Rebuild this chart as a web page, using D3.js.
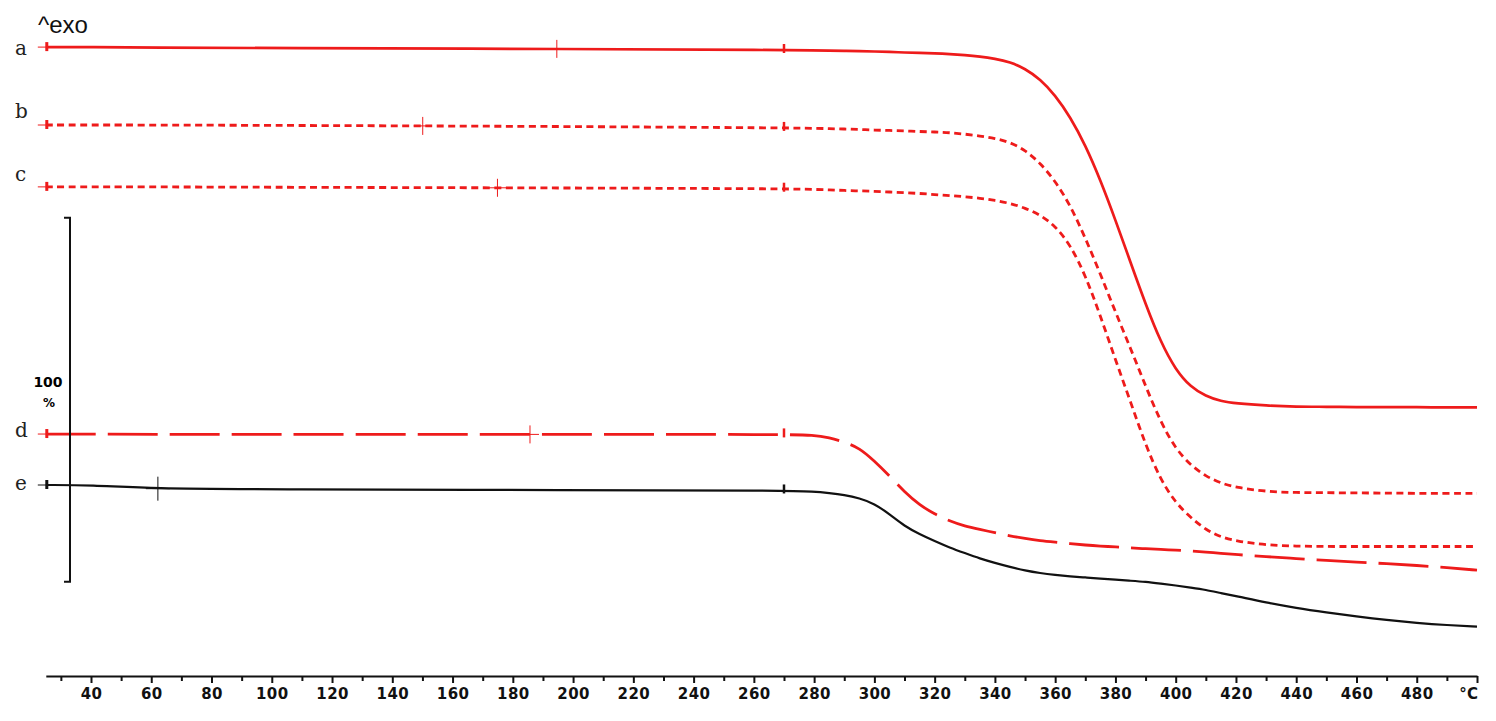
<!DOCTYPE html>
<html><head><meta charset="utf-8">
<script src="https://cdn.jsdelivr.net/npm/d3@7"></script>
<style>body{margin:0;background:#fff;} svg{display:block;}</style>
</head><body>
<svg id="chart" width="1496" height="721"></svg>
<script>
// ---------- data ----------
const temperatures = [25, 40, 60, 100, 200, 270, 280, 285, 290, 295, 300, 305, 310, 315, 320, 325, 330, 335, 340, 345, 350, 355, 360, 365, 370, 375, 380, 385, 390, 395, 400, 405, 410, 415, 420, 430, 440, 450, 460, 470, 480, 490, 500];
const seriesNames = ["a", "b", "c", "d", "e"];
const massA = [100, 100, 99.9, 99.7, 99.5, 99.2, 99.1, 99.0, 99.0, 98.9, 98.8, 98.7, 98.5, 98.4, 98.3, 98.1, 97.8, 97.4, 96.8, 95.9, 94.1, 91.2, 86.8, 80.8, 73.1, 63.5, 52.5, 40.9, 29.4, 19.0, 11.3, 6.6, 4.1, 2.7, 2.1, 1.5, 1.2, 1.2, 1.1, 1.1, 1.1, 1.0, 1.0];
const massB = [100, 100, 100, 99.9, 99.6, 99.2, 99.1, 99.0, 98.9, 98.8, 98.6, 98.5, 98.4, 98.2, 98.1, 97.9, 97.5, 97.0, 96.3, 95.3, 93.1, 89.6, 84.6, 78.0, 69.0, 59.1, 48.6, 38.7, 28.3, 18.4, 11.0, 6.5, 3.5, 1.6, 0.4, -0.7, -1.0, -1.0, -1.1, -1.1, -1.2, -1.2, -1.2];
const massC = [100, 100, 100, 99.9, 99.7, 99.5, 99.3, 99.2, 99.0, 98.9, 98.8, 98.6, 98.4, 98.2, 97.9, 97.6, 97.3, 96.9, 96.3, 95.5, 94.2, 92.3, 89.3, 84.1, 75.8, 64.6, 52.5, 41.0, 29.1, 19.5, 13.2, 9.1, 5.8, 3.8, 2.7, 1.6, 1.3, 1.2, 1.2, 1.2, 1.2, 1.2, 1.2];
const massD = [100, 100, 99.9, 99.9, 99.9, 99.9, 99.7, 99.0, 97.8, 96.2, 92.6, 88.5, 84.1, 80.5, 78.0, 76.1, 74.7, 73.8, 72.9, 72.0, 71.3, 70.7, 70.3, 69.9, 69.5, 69.2, 69.0, 68.7, 68.5, 68.3, 68.1, 67.9, 67.6, 67.2, 66.9, 66.3, 65.8, 65.3, 64.8, 64.4, 63.9, 63.3, 62.6];
const massE = [100, 100, 99.0, 98.8, 98.6, 98.5, 98.2, 97.8, 97.3, 96.4, 94.9, 92.0, 88.7, 86.5, 84.6, 82.8, 81.3, 79.8, 78.6, 77.5, 76.5, 75.8, 75.3, 74.9, 74.6, 74.3, 74.0, 73.7, 73.4, 72.9, 72.4, 71.8, 71.2, 70.3, 69.5, 67.7, 66.2, 65.0, 63.9, 62.9, 62.1, 61.5, 61.1];
const seriesOffsets = [120.3, 98.9, 81.9, 14.0, 0];      // vertical stacking of curves, % units
const crossTemps = [194.6, 150.1, 174.9, 185.7, 62.2];  // evaluation cursor positions, °C
const markTemp = 270;
const majorTicks = [40, 60, 80, 100, 120, 140, 160, 180, 200, 220, 240, 260, 280, 300, 320, 340, 360, 380, 400, 420, 440, 460, 480, 500];
const minorTicks = [30, 50, 70, 90, 110, 130, 150, 170, 190, 210, 230, 250, 270, 290, 310, 330, 350, 370, 390, 410, 430, 450, 470, 490];
const scaleBarBase = 73.4, scaleBarSpan = 100;
const unitLabel = "°C";

// ---------- layout & style ----------
const RED = "#ee1b1b", BLACK = "#111";
const colors = [RED, RED, RED, RED, BLACK];
const dashes = [null, "7,4.5", "7,4.5", "50,12", null];
const widths = [2.7, 2.8, 2.8, 2.8, 2.2];
const labelDy = [8, -7, -6, 3, 5];

const svg = d3.select("#chart");
const x = d3.scaleLinear().domain([25, 500]).range([45.8, 1477]);
const y = d3.scaleLinear().domain([0, 200]).range([849, 121]);

const allMass = [massA, massB, massC, massD, massE];
const series = seriesNames.map((name, i) => ({
  name, color: colors[i], dash: dashes[i], width: widths[i], offset: seriesOffsets[i],
  pts: temperatures.map((t, j) => ({t, v: allMass[i][j]}))
}));

function valueAt(s, t) {
  const p = s.pts;
  for (let k = 0; k < p.length - 1; k++) {
    if (t >= p[k].t && t <= p[k+1].t) {
      const f = (t - p[k].t) / (p[k+1].t - p[k].t);
      return p[k].v + f * (p[k+1].v - p[k].v);
    }
  }
  return p[p.length-1].v;
}

const line = d3.line()
  .x(d => x(d.t))
  .curve(d3.curveBasis);

// curves
series.forEach(s => {
  svg.append("path")
    .datum(s.pts)
    .attr("d", line.y(d => y(d.v + s.offset)))
    .attr("fill", "none")
    .attr("stroke", s.color)
    .attr("stroke-width", s.width)
    .attr("stroke-dasharray", s.dash)
    .attr("stroke-linejoin", "round");
});

// start markers, 270 marks, crosses, letter labels
series.forEach((s, i) => {
  const g = svg.append("g");
  const x0 = x(temperatures[0]), y0 = y(s.pts[0].v + s.offset);
  g.append("line").attr("x1", x0 - 8).attr("x2", x0).attr("y1", y0).attr("y2", y0)
    .attr("stroke", s.color).attr("stroke-width", 1);
  g.append("line").attr("x1", x0 + 1).attr("x2", x0 + 1).attr("y1", y0 - 5).attr("y2", y0 + 4)
    .attr("stroke", s.color).attr("stroke-width", 3);
  const xm = x(markTemp), ym = y(valueAt(s, markTemp) + s.offset);
  g.append("line").attr("x1", xm).attr("x2", xm).attr("y1", ym - 6).attr("y2", ym + 3)
    .attr("stroke", s.color).attr("stroke-width", 2.5);
  const xc = x(crossTemps[i]), yc = y(valueAt(s, crossTemps[i]) + s.offset);
  const ext = i === 4 ? 12 : 9;
  g.append("line").attr("x1", xc).attr("x2", xc).attr("y1", yc - ext).attr("y2", yc + ext)
    .attr("stroke", s.color).attr("stroke-width", 1);
  g.append("line").attr("x1", xc - ext).attr("x2", xc + ext).attr("y1", yc).attr("y2", yc)
    .attr("stroke", s.color).attr("stroke-width", 1);
  svg.append("text")
    .attr("x", 15).attr("y", y0 + labelDy[i])
    .attr("font-family", "DejaVu Serif, serif").attr("font-size", 20)
    .attr("fill", "#222")
    .text(s.name);
});

// scale bar
const sbX = 70, sbTop = y(scaleBarBase + scaleBarSpan), sbBot = y(scaleBarBase);
svg.append("path")
  .attr("d", `M${sbX-6},${sbTop}H${sbX}V${sbBot}H${sbX-6}`)
  .attr("fill", "none").attr("stroke", BLACK).attr("stroke-width", 2);
svg.append("text").attr("x", 48).attr("y", 387).attr("text-anchor", "middle")
  .attr("font-family", "DejaVu Sans, sans-serif").attr("font-weight", "bold").attr("font-size", 14)
  .text(String(scaleBarSpan));
svg.append("text").attr("x", 49).attr("y", 407).attr("text-anchor", "middle")
  .attr("font-family", "DejaVu Sans, sans-serif").attr("font-weight", "bold").attr("font-size", 12)
  .text("%");

// ^exo
svg.append("text").attr("x", 38).attr("y", 33)
  .attr("font-family", "Liberation Sans, Arial, sans-serif").attr("font-size", 24)
  .attr("fill", "#111").text("^exo");

// x axis
const axisY = 676;
const minorAxis = d3.axisBottom(x).tickValues(minorTicks).tickSize(5).tickSizeOuter(0).tickFormat("");
const gMin = svg.append("g").attr("transform", `translate(0,${axisY})`).call(minorAxis);
gMin.select(".domain").remove();
gMin.selectAll(".tick line").attr("stroke", BLACK).attr("stroke-width", 2);

const majorAxis = d3.axisBottom(x).tickValues(majorTicks).tickSize(7).tickSizeOuter(0).tickPadding(5)
  .tickFormat(d => d === 500 ? unitLabel : d3.format("d")(d));
const gMaj = svg.append("g").attr("transform", `translate(0,${axisY})`).call(majorAxis);
gMaj.select(".domain").attr("stroke", BLACK).attr("stroke-width", 2);
gMaj.selectAll(".tick line").attr("stroke", BLACK).attr("stroke-width", 2);
gMaj.selectAll(".tick text")
  .attr("font-family", "DejaVu Sans, Verdana, sans-serif")
  .attr("font-weight", "bold").attr("font-size", 15).attr("letter-spacing", 0.4).attr("fill", "#111");
gMaj.selectAll(".tick").filter(d => d === 500).select("text")
  .attr("text-anchor", "end").attr("x", 1);
</script>
</body></html>
